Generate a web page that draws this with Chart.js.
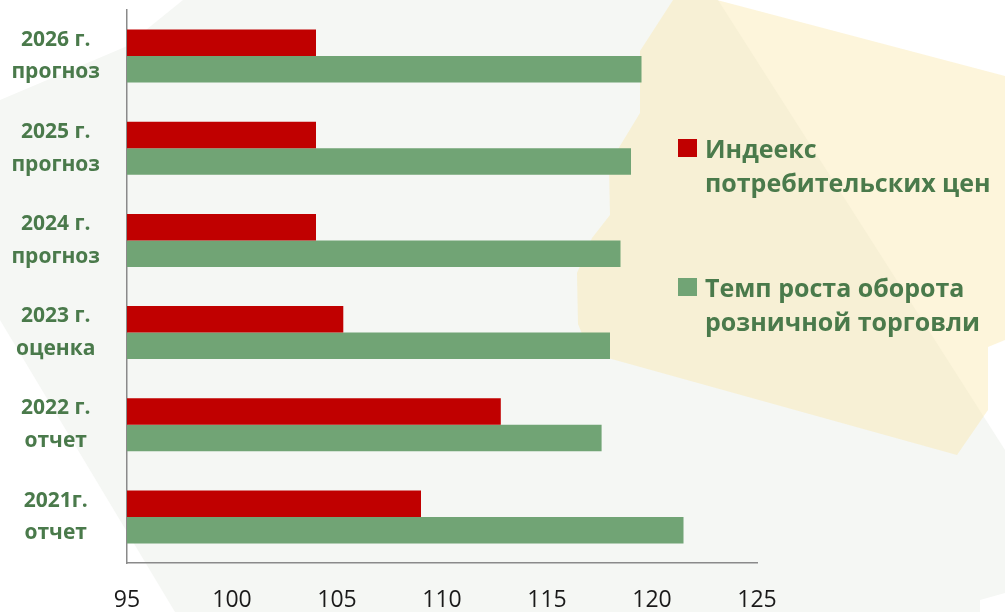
<!DOCTYPE html>
<html>
<head>
<meta charset="utf-8">
<script src="https://cdn.jsdelivr.net/npm/chart.js@4.4.0/dist/chart.umd.min.js"></script>
<style>
html, body { margin:0; padding:0; background:#fff; }
#wrap { position:relative; width:1005px; height:612px; overflow:hidden; }
#legend { position:absolute; left:0; top:0; font-family:"Open Sans", sans-serif; font-weight:bold; font-size:25px; color:#4a7a4b; }
.item { position:absolute; left:678px; white-space:nowrap; }
.sw { position:absolute; left:0; width:19px; height:18px; }
.txt { position:absolute; left:27px; line-height:34px; }
</style>
</head>
<body>
<div id="wrap">
  <canvas id="chart" width="1005" height="612"></canvas>
  <div id="legend"></div>
</div>
<script>
// categories, top to bottom
const categories = [
  ['2026 г.', 'прогноз'],
  ['2025 г.', 'прогноз'],
  ['2024 г.', 'прогноз'],
  ['2023 г.', 'оценка'],
  ['2022 г.', 'отчет'],
  ['2021г.', 'отчет']
];
const cpiValues = [104.0, 104.0, 104.0, 105.3, 112.8, 109.0];
const retailValues = [119.5, 119.0, 118.5, 118.0, 117.6, 121.5];
const xMin = 95, xMax = 125, xStep = 5;
const seriesNames = [
  ['Индеекс', 'потребительских цен'],
  ['Темп роста оборота', 'розничной торговли']
];
const seriesColors = ['#c00000', '#71a475'];
const labelColor = '#4a7a4b';

// decorative background shapes
const bgPlugin = {
  id: 'bg',
  beforeDraw(chart){
    const ctx = chart.ctx;
    const poly = (pts, fill) => {
      ctx.beginPath();
      pts.forEach((p, i) => i ? ctx.lineTo(p[0], p[1]) : ctx.moveTo(p[0], p[1]));
      ctx.closePath();
      ctx.fillStyle = fill;
      ctx.fill();
    };
    ctx.save();
    ctx.fillStyle = '#fff';
    ctx.fillRect(0, 0, chart.width, chart.height);
    poly([[183,0],[718,0],[1005,450],[1005,593],[980,600],[980,612],[175,612],[0,320],[0,100],[125,47]], '#f5f7f4');
    poly([[673,0],[717,0],[1005,76],[1005,340],[988,347],[988,410],[957,455],[590,353],[578,324],[577,273],[592,238],[610,215],[609,164],[640,113],[640,51]], 'rgba(251,231,170,0.42)');
    ctx.restore();
  }
};

Chart.defaults.font.family = '"Open Sans", sans-serif';

new Chart(document.getElementById('chart').getContext('2d'), {
  type: 'bar',
  data: {
    labels: categories,
    datasets: [
      { label: seriesNames[0].join(' '), data: cpiValues, backgroundColor: seriesColors[0] },
      { label: seriesNames[1].join(' '), data: retailValues, backgroundColor: seriesColors[1] }
    ]
  },
  options: {
    indexAxis: 'y',
    responsive: false,
    animation: false,
    layout: { padding: { top: 10, right: 248, left: 0, bottom: 0 } },
    datasets: { bar: { categoryPercentage: 0.575, barPercentage: 1.0 } },
    plugins: { legend: { display: false }, tooltip: { enabled: false } },
    scales: {
      x: {
        min: xMin, max: xMax,
        grid: { display: false, drawTicks: false },
        border: { display: true, color: '#8a8a8a', width: 1.5 },
        ticks: { stepSize: xStep, padding: 24, color: '#1a1a1a', font: { size: 23 } },
        afterFit(s){ s.height = 49; s.paddingLeft = 0; s.paddingRight = 0; }
      },
      y: {
        grid: { display: false, drawTicks: false },
        border: { display: true, color: '#8a8a8a', width: 1.5 },
        ticks: { crossAlign: 'center', padding: 27, color: labelColor, font: { size: 21, weight: 'bold', lineHeight: 1.55 } },
        afterFit(s){ s.width = 127; s.paddingTop = 0; s.paddingBottom = 0; }
      }
    }
  },
  plugins: [bgPlugin]
});

// html legend built from the series names
const legendTops = [131, 270];
const legend = document.getElementById('legend');
seriesNames.forEach((lines, i) => {
  const item = document.createElement('div');
  item.className = 'item';
  item.style.top = legendTops[i] + 'px';
  item.innerHTML = '<div class="sw" style="top:8px;background:' + seriesColors[i] + '"></div>' +
    '<div class="txt">' + lines.join('<br>') + '</div>';
  legend.appendChild(item);
});
</script>
</body>
</html>
